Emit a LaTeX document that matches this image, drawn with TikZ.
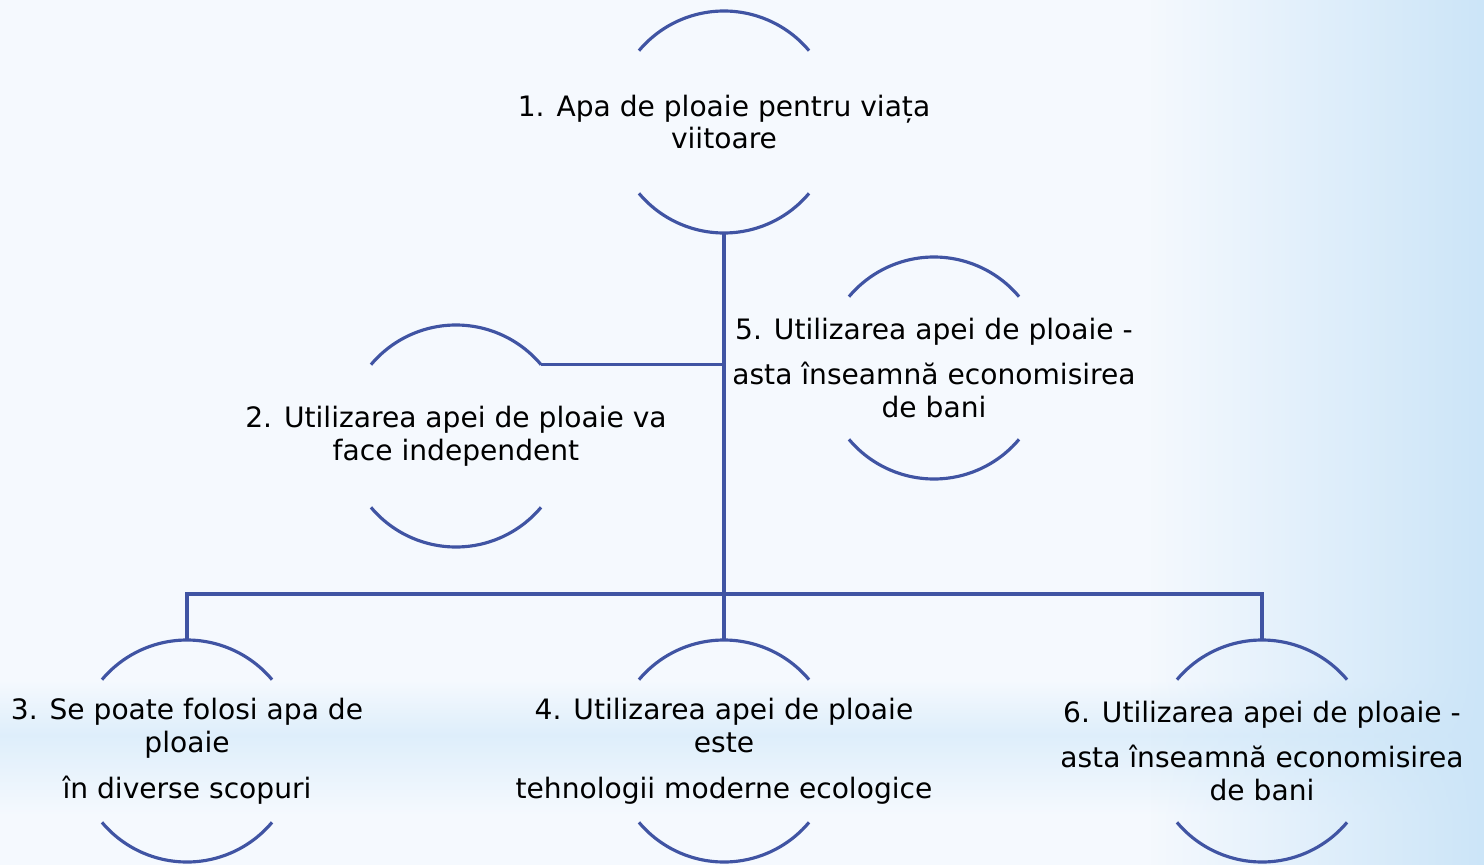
\documentclass[tikz,border=0pt]{standalone}
\usepackage{fontspec}
\setmainfont{DejaVu Sans}
\usetikzlibrary{fadings}

\definecolor{rimblue}{RGB}{64,84,163}
\definecolor{bgpale}{RGB}{245,249,254}
\definecolor{bgblue}{RGB}{204,229,248}

\tikzset{
rim/.pic={
  \draw[rimblue, line width=1.8pt] (40:111) arc[start angle=40, end angle=140, radius=111];
  \draw[rimblue, line width=1.8pt] (220:111) arc[start angle=220, end angle=320, radius=111];
  },
bubble/.style={circle, minimum size=4.44cm, inner sep=0pt, outer sep=0pt},
caption/.style={align=center, font=\fontsize{16}{18.7}\selectfont},
link/.style={rimblue, line width=1.8pt}
}

\begin{document}
\begin{tikzpicture}[x=0.02cm, y=0.02cm]
\useasboundingbox (0,0) rectangle (1484,-865);
% background
\fill[bgpale] (0,0) rectangle (1484,-865);
\shade[top color=bgpale, bottom color=bgblue!65] (0,-680) rectangle (1484,-735);
\shade[top color=bgblue!65, bottom color=bgpale] (0,-735) rectangle (1484,-815);
\fill[bgblue, path fading=west] (1150,0) rectangle (1484,-865);

\node[bubble] (n1) at (724,-122) {};
\node[bubble] (n2) at (456,-436) {};
\node[bubble] (n5) at (934,-368) {};
\node[bubble] (n3) at (187,-751) {};
\node[bubble] (n4) at (724,-751) {};
\node[bubble] (n6) at (1262,-751) {};
\pic at (n1) {rim};
\pic at (n2) {rim};
\pic at (n5) {rim};
\pic at (n3) {rim};
\pic at (n4) {rim};
\pic at (n6) {rim};

\node[caption] (t1) at (n1) {1. Apa de ploaie pentru viața\\viitoare};
\node[caption] (t2) at (n2) {2. Utilizarea apei de ploaie va\\face independent};
\node[caption] (t5) at (n5) {5. Utilizarea apei de ploaie -\\[7.4pt]asta înseamnă economisirea\\de bani};
\node[caption] (t3) at (n3) {3. Se poate folosi apa de\\ploaie\\[7.4pt]în diverse scopuri};
\node[caption] (t4) at (n4) {4. Utilizarea apei de ploaie\\este\\[7.4pt]tehnologii moderne ecologice};
\node[caption] (t6) at (n6) {6. Utilizarea apei de ploaie -\\[7.4pt]asta înseamnă economisirea\\de bani};

% connectors
\draw[link] (n1.south) -- (n4.north);
\draw[link] (n2.40) -- (n2.40 -| n1.south);
\draw[link] (n3.north) -- ++(0,46) -| (n6.north);
\end{tikzpicture}
\end{document}
